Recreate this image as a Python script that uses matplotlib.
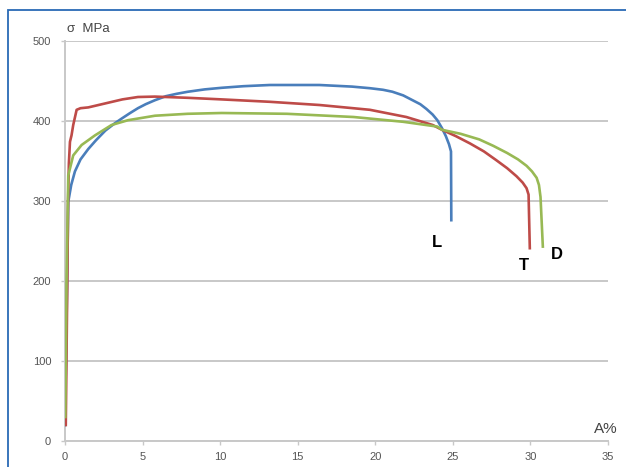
import matplotlib.pyplot as plt
from matplotlib.patches import Rectangle

plt.rcParams['font.family'] = ['Liberation Sans', 'DejaVu Sans']

# stress-strain curves, A% vs sigma MPa
l_x = [0.0, 0.1, 0.21, 0.4, 0.64, 1.0, 1.5, 2.0, 2.6, 3.2, 3.65, 4.2, 4.7, 5.2,
       5.8, 6.5, 7.2, 7.9, 9.0, 10.1, 11.5, 13.2, 16.4, 18.5, 19.65, 20.5, 21.1,
       21.8, 22.4, 22.9, 23.3, 23.7, 24.0, 24.3, 24.55, 24.75, 24.88, 24.9]
l_y = [20, 150, 299, 320, 337, 352, 365, 376, 388, 397, 403, 410, 416, 421,
       426, 431, 434, 436.5, 439.5, 441.5, 443.5, 445, 445, 443, 441, 439, 436.6,
       432, 426, 421, 415, 408, 401, 391, 381, 371, 362, 276]

t_x = [0.05, 0.15, 0.2, 0.25, 0.32, 0.42, 0.53, 0.75, 1.0, 1.5, 2.6, 3.7, 4.7,
       5.8, 7.9, 10.1, 13.2, 16.4, 19.65, 22.0, 23.7, 24.3, 25.2, 26.1, 27.0,
       27.8, 28.5, 29.1, 29.5, 29.75, 29.88, 29.96]
t_y = [20, 200, 300, 347, 374, 382, 395, 414, 416, 417, 422, 427, 430, 430.5,
       429, 427, 424, 420, 414, 405, 395, 389, 381, 372, 362, 351, 341, 331,
       323, 316, 308, 241]

d_x = [0.02, 0.1, 0.21, 0.53, 1.07, 1.93, 3.0, 4.06, 5.8, 7.9, 10.1, 14.3, 18.6,
       21.8, 24.0, 24.3, 25.5, 26.7, 27.6, 28.5, 29.2, 29.75, 30.1, 30.4, 30.55,
       30.65, 30.8]
d_y = [30, 200, 332, 357, 370, 382, 395, 401, 406.6, 409, 410, 409, 405, 399,
       393, 389, 384, 377, 369, 360, 352, 344, 337, 329, 320, 305, 243]

x_ticks = [0, 5, 10, 15, 20, 25, 30, 35]
y_ticks = [0, 100, 200, 300, 400, 500]

fig = plt.figure(figsize=(6.26, 4.67), dpi=100)
ax = fig.add_axes([65/626, 26/467, 543/626, 400/467])

# blue frame around the figure
fig.patches.append(Rectangle((8/626, -0.05), 1.2, (457/467) + 0.05,
                             transform=fig.transFigure, fill=False,
                             edgecolor='#2a6ab5', linewidth=1.3))

ax.plot(l_x, l_y, color='#4a7ebb', lw=1.9, zorder=3, solid_joinstyle='round')
ax.plot(t_x, t_y, color='#be4b48', lw=1.9, zorder=3, solid_joinstyle='round')
ax.plot(d_x, d_y, color='#98b954', lw=1.9, zorder=3, solid_joinstyle='round')

ax.set_xlim(0, 35)
ax.set_ylim(0, 500)
ax.set_xticks(x_ticks)
ax.set_yticks(y_ticks)
ax.yaxis.grid(True, color='#c8c8c8', lw=1.4)
ax.set_axisbelow(True)
for s in ['top', 'right']:
    ax.spines[s].set_visible(False)
for s in ['left', 'bottom']:
    ax.spines[s].set_color('#c8c8c8')
    ax.spines[s].set_linewidth(1.4)
ax.tick_params(axis='both', colors='#c8c8c8', labelcolor='#555555',
               labelsize=8, length=3, width=1)
ax.tick_params(axis='y', pad=7)
ax.tick_params(axis='x', pad=5)

ax.text(0.004, 1.03, 'σ  MPa', transform=ax.transAxes, fontsize=9.5,
        color='#444444', va='center', ha='left')
ax.text(1.017, 0.03, 'A%', transform=ax.transAxes, fontsize=11,
        color='#444444', va='center', ha='right')

ax.text(24.0, 248, 'L', fontsize=12, fontweight='bold', ha='center', va='center')
ax.text(29.6, 219, 'T', fontsize=12, fontweight='bold', ha='center', va='center')
ax.text(31.7, 233, 'D', fontsize=12, fontweight='bold', ha='center', va='center')

fig.savefig('out.png', dpi=100)
